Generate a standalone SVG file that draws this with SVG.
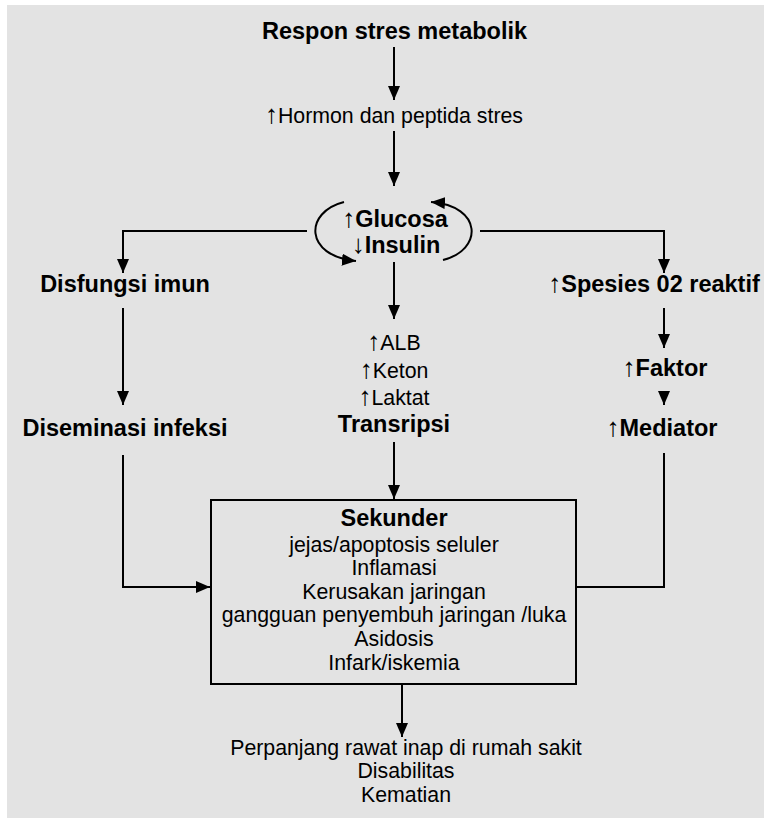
<svg xmlns="http://www.w3.org/2000/svg" width="770" height="818" viewBox="0 0 770 818">
<style>
text{font-family:"Liberation Sans","DejaVu Sans",Arial,sans-serif;fill:#000;text-anchor:middle}
.b{font-weight:bold;font-size:23.5px}
.r{font-size:21.3px}
.ar{font-family:"Liberation Sans",sans-serif;font-weight:normal;font-size:26px}
.ln{fill:none;stroke:#000;stroke-width:2}
</style>
<defs>
<marker id="ah" viewBox="0 0 14 12" refX="14" refY="6" markerWidth="14" markerHeight="12" markerUnits="userSpaceOnUse" orient="auto">
<path d="M0,0 L14,6 L0,12 z" fill="#000"/>
</marker>
</defs>
<rect x="0" y="0" width="770" height="818" fill="#fff"/>
<rect x="7" y="5" width="757" height="813" fill="#e3e3e3"/>
<g id="connectors">
<path class="ln" d="M394,47 V100" marker-end="url(#ah)"/>
<path class="ln" d="M394,131 V186" marker-end="url(#ah)"/>
<path class="ln" d="M344,202 C304,212 304,256 356,261" marker-end="url(#ah)"/>
<path class="ln" d="M443,260 C483,250 483,206 431,202" marker-end="url(#ah)"/>
<path class="ln" d="M307,231 H123 V273" marker-end="url(#ah)"/>
<path class="ln" d="M480,231 H664 V273" marker-end="url(#ah)"/>
<path class="ln" d="M394,262 V319" marker-end="url(#ah)"/>
<path class="ln" d="M123,308 V405" marker-end="url(#ah)"/>
<path class="ln" d="M664,308 V348" marker-end="url(#ah)"/>
<path class="ln" d="M664,391 V405" marker-end="url(#ah)"/>
<path class="ln" d="M394,442 V499" marker-end="url(#ah)"/>
<path class="ln" d="M123,455 V587 H210" marker-end="url(#ah)"/>
<path class="ln" d="M664,453 V587 H576"/>
<path class="ln" d="M402,685 V737" marker-end="url(#ah)"/>
</g>
<g id="n-respon"><text class="b" x="394.5" y="39">Respon stres metabolik</text></g>
<g id="n-hormon"><text class="r" x="394" y="123"><tspan class="ar">↑</tspan>Hormon dan peptida stres</text></g>
<g id="n-glucosa"><text class="b" x="395" y="227"><tspan class="ar">↑</tspan>Glucosa</text><text class="b" x="396" y="253"><tspan class="ar">↓</tspan>Insulin</text></g>
<g id="n-disfungsi"><text class="b" x="125" y="292">Disfungsi imun</text></g>
<g id="n-diseminasi"><text class="b" x="125" y="436">Diseminasi infeksi</text></g>
<g id="n-spesies"><text class="b" x="654" y="292"><tspan class="ar">↑</tspan>Spesies 02 reaktif</text></g>
<g id="n-faktor"><text class="b" x="665" y="376"><tspan class="ar">↑</tspan>Faktor</text></g>
<g id="n-mediator"><text class="b" x="662" y="436"><tspan class="ar">↑</tspan>Mediator</text></g>
<g id="n-metabolit"><text class="r" x="394" y="350"><tspan class="ar">↑</tspan>ALB</text><text class="r" x="394" y="378"><tspan class="ar">↑</tspan>Keton</text><text class="r" x="394" y="405"><tspan class="ar">↑</tspan>Laktat</text><text class="b" x="394" y="432">Transripsi</text></g>
<g id="n-sekunder">
<rect x="211" y="500" width="365" height="184" fill="none" stroke="#000" stroke-width="2"/>
<text class="b" x="394" y="526">Sekunder</text>
<text class="r" x="394" y="552">jejas/apoptosis seluler</text>
<text class="r" x="394" y="575">Inflamasi</text>
<text class="r" x="394" y="599">Kerusakan jaringan</text>
<text class="r" x="394" y="622">gangguan penyembuh jaringan /luka</text>
<text class="r" x="394" y="646">Asidosis</text>
<text class="r" x="394" y="670">Infark/iskemia</text>
</g>
<g id="n-outcome">
<text class="r" x="406" y="755">Perpanjang rawat inap di rumah sakit</text>
<text class="r" x="406" y="778">Disabilitas</text>
<text class="r" x="406" y="802">Kematian</text>
</g>
</svg>
